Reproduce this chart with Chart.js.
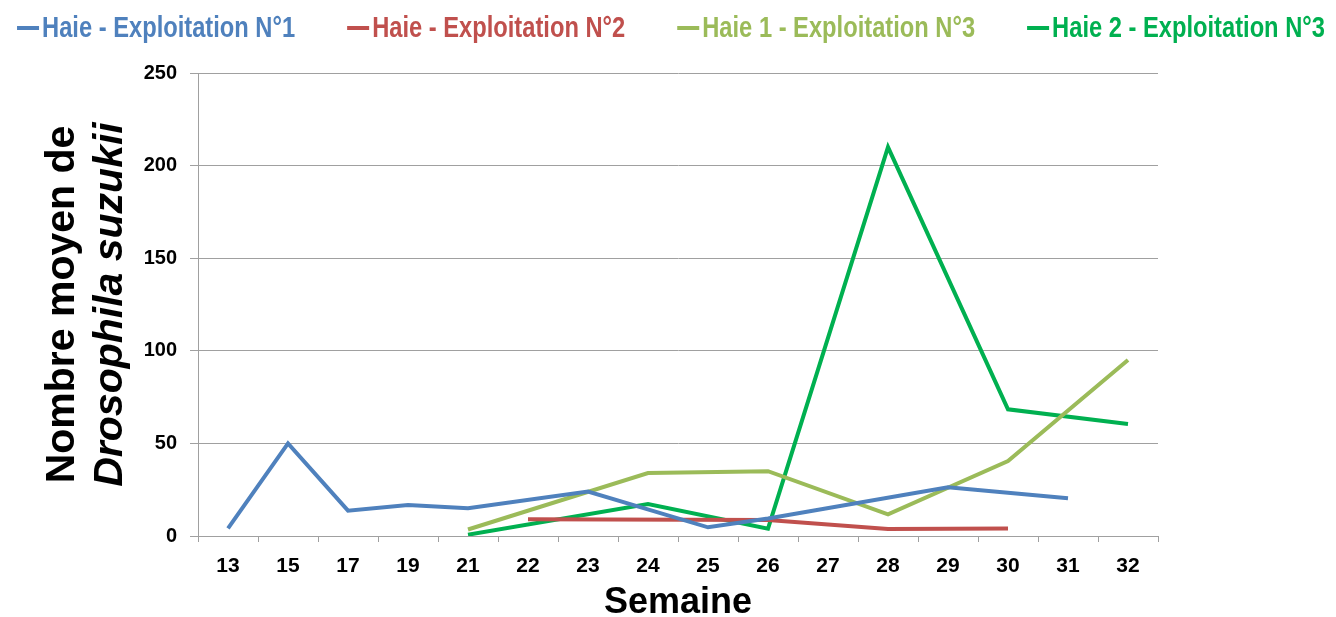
<!DOCTYPE html>
<html>
<head>
<meta charset="utf-8">
<script src="https://cdn.jsdelivr.net/npm/chart.js@4"></script>
<style>
  body { margin: 0; background: #fff; }
  #wrap { width: 1336px; height: 617px; }
</style>
</head>
<body>
<div id="wrap"><canvas id="myChart"></canvas></div>
<script>
const semaines = ["13", "15", "17", "19", "21", "22", "23", "24", "25", "26", "27", "28", "29", "30", "31", "32"];
// null = week not sampled, line is carried across (spanGaps)
const haieExpl1 = [4.1, 50, 13.7, 16.7, 15, null, 24, null, 4.7, 9.5, null, null, 26.3, null, 20.4, null];
const haieExpl2 = [null, null, null, null, null, 9.1, null, null, null, 8.6, null, 3.8, null, 4.1, null, null];
const haie1Expl3 = [null, null, null, null, 3.5, null, null, 34, null, 35, null, 11.7, null, 40.5, null, 95];
const haie2Expl3 = [null, null, null, null, 0.7, null, null, 17.3, null, 4, null, 210, null, 68.4, null, 60.5];
const yTicks = [0, 50, 100, 150, 200, 250];
const yTitle = ["Nombre moyen de", "Drosophila suzukii"];
const xTitle = "Semaine";

const names = ["Haie - Exploitation N°1", "Haie - Exploitation N°2", "Haie 1 - Exploitation N°3", "Haie 2 - Exploitation N°3"];
const colors = ["#4F81BD", "#C0504D", "#9BBB59", "#00B050"];
const series = [haieExpl1, haieExpl2, haie1Expl3, haie2Expl3];

const yTitlePlugin = {
  id: "yTitle",
  afterDraw(chart) {
    const { ctx, chartArea } = chart;
    const cy = (chartArea.top + chartArea.bottom) / 2;
    ctx.save();
    ctx.translate(63, cy);
    ctx.rotate(-Math.PI / 2);
    ctx.textAlign = "center";
    ctx.textBaseline = "middle";
    ctx.fillStyle = "#000";
    ctx.font = 'bold 41px "Liberation Sans", Arial, sans-serif';
    ctx.fillText(yTitle[0], 0, 0);
    ctx.font = 'italic bold 41px "Liberation Sans", Arial, sans-serif';
    ctx.fillText(yTitle[1], 0, 48);
    ctx.restore();
  },
};

// narrow bold legend across the top, text in series colour
const legendPlugin = {
  id: "topLegend",
  afterDraw(chart) {
    const { ctx } = chart;
    const sx = 0.79;
    const lineW = 22;
    const gap = 52;
    ctx.save();
    ctx.font = 'bold 30px "Liberation Sans", Arial, sans-serif';
    ctx.textBaseline = "middle";
    const widths = chart.data.datasets.map((ds) => lineW + 3 + ctx.measureText(ds.label).width * sx);
    const total = widths.reduce((a, b) => a + b, 0) + gap * (widths.length - 1);
    let x = (chart.width - total) / 2 + 3;
    const y = 28;
    chart.data.datasets.forEach((ds, i) => {
      ctx.fillStyle = ds.borderColor;
      ctx.fillRect(x, y - 2, lineW, 4);
      ctx.save();
      ctx.translate(x + lineW + 3, y);
      ctx.scale(sx, 1);
      ctx.fillText(ds.label, 0, 1);
      ctx.restore();
      x += widths[i] + gap;
    });
    ctx.restore();
  },
};

const ctx = document.getElementById("myChart");
new Chart(ctx, {
  type: "line",
  data: {
    labels: semaines,
    datasets: series.map((d, i) => ({
      label: names[i],
      data: d,
      borderColor: colors[i],
      backgroundColor: colors[i],
      borderWidth: 4,
      pointRadius: 0,
      tension: 0,
      spanGaps: true,
    })),
  },
  options: {
    responsive: true,
    maintainAspectRatio: false,
    animation: false,
    layout: { padding: { top: 73, left: 0, right: 0, bottom: 0 } },
    plugins: {
      tooltip: { enabled: false },
      legend: { display: false },
    },
    scales: {
      x: {
        offset: true,
        grid: { offset: true, drawOnChartArea: false, drawTicks: true, tickLength: 6, color: "#a0a0a0" },
        border: { color: "#a0a0a0", width: 1 },
        ticks: {
          color: "#000",
          padding: 12,
          maxRotation: 0,
          font: { family: '"Liberation Sans", Arial', size: 21, weight: "bold" },
        },
        title: {
          display: true,
          text: xTitle,
          color: "#000",
          padding: { top: 0, bottom: 0 },
          font: { family: '"Liberation Sans", Arial', size: 36, weight: "bold", lineHeight: 0.8 },
        },
        afterFit(s) { s.height = 81; },
      },
      y: {
        min: 0,
        max: 250,
        afterBuildTicks(s) { s.ticks = yTicks.map((v) => ({ value: v })); },
        grid: { color: "#a0a0a0", tickLength: 8, drawTicks: true },
        border: { color: "#a0a0a0", width: 1 },
        ticks: {
          color: "#000",
          padding: 13,
          font: { family: '"Liberation Sans", Arial', size: 20, weight: "bold" },
        },
        afterFit(s) { s.width = 198; },
      },
      yRight: {
        position: "right",
        display: true,
        grid: { display: false, drawOnChartArea: false },
        border: { display: false },
        ticks: { display: false },
        afterFit(s) { s.width = 178; },
      },
    },
  },
  plugins: [yTitlePlugin, legendPlugin],
});
</script>
</body>
</html>
